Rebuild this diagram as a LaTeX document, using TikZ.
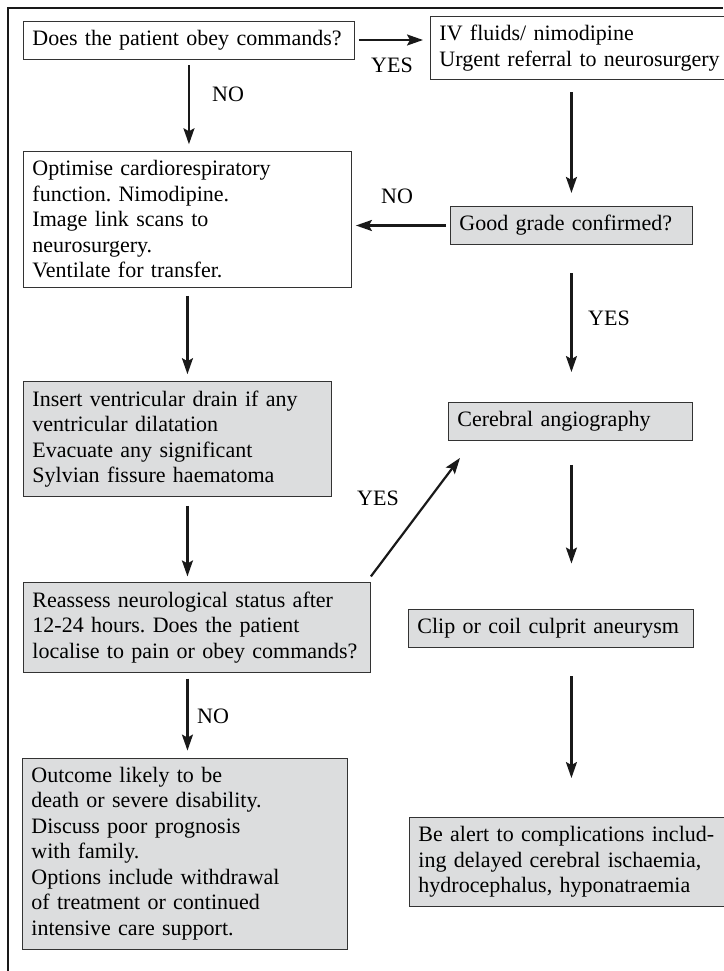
\documentclass[tikz,border=0pt]{standalone}
\usepackage{fontspec}
\setmainfont{Liberation Serif}
\usetikzlibrary{arrows.meta}
\frenchspacing
\definecolor{boxgray}{HTML}{DCDDDE}
\definecolor{edgegray}{HTML}{333333}
\tikzset{
  box/.style={draw=edgegray, line width=0.9pt, anchor=west, align=left,
    inner xsep=9pt, inner ysep=9pt, font=\fontsize{22}{25.5}\selectfont},
  shaded/.style={box, fill=boxgray},
  arr/.style={-{Stealth[length=16pt,width=11pt,inset=3pt]}, line width=2.2pt, black!90},
  lbl/.style={anchor=base west, inner sep=0pt, font=\fontsize{22}{25.5}\selectfont},
}
\begin{document}
\begin{tikzpicture}[x=1pt,y=-1pt]
      \useasboundingbox (0,0) rectangle (723,971);
      \draw[line width=2.4pt, black!90] (8,971) -- (8,8) -- (723,8);
      % left column
      \node[box, text width=313pt] (obey) at (23, 40) {Does the patient obey commands?};
      \node[box, text width=310pt] (optim) at (23, 219.5) {Optimise cardiorespiratory\\function. Nimodipine.\\Image link scans to\\neurosurgery.\\Ventilate for transfer.};
      \node[shaded, text width=290pt] (drain) at (23, 439) {Insert ventricular drain if any\\ventricular dilatation\\Evacuate any significant\\Sylvian fissure haematoma};
      \node[shaded, text width=329pt] (reass) at (23, 627.5) {Reassess neurological status after\\12-24 hours. Does the patient\\localise to pain or obey commands?};
      \node[shaded, text width=307pt] (outc) at (22, 853.5) {Outcome likely to be\\death or severe disability.\\Discuss poor prognosis\\with family.\\Options include withdrawal\\of treatment or continued\\intensive care support.};
      % right column
      \node[box, text width=290pt] (refer) at (430, 48) {IV fluids/ nimodipine\\Urgent referral to neurosurgery};
      \node[shaded, text width=224pt] (grade) at (450, 225.5) {Good grade confirmed?};
      \node[shaded, text width=226pt] (angio) at (448, 421.5) {Cerebral angiography};
      \node[shaded, text width=267pt] (clip) at (408, 628) {Clip or coil culprit aneurysm};
      \node[shaded, text width=302pt] (alert) at (409, 862) {Be alert to complications includ-\\ing delayed cerebral ischaemia,\\hydrocephalus, hyponatraemia};
      % connectors
      \draw[arr, shorten <=4pt, shorten >=7pt] (obey.east) -- (obey.east -| refer.west);
      \node[lbl] (yes1) at (371, 73) {YES};
      \draw[arr, shorten <=6pt, shorten >=7pt] (obey.south) -- (obey.south |- optim.north);
      \node[lbl] (no1) at (212, 102) {NO};
      \draw[arr, shorten <=12pt, shorten >=13pt] (refer.south -| grade.north) -- (grade.north);
      \draw[arr, shorten <=4pt, shorten >=4pt] (grade.west) -- (grade.west -| optim.east);
      \node[lbl] (no2) at (381, 203) {NO};
      \draw[arr, shorten <=28pt, shorten >=30pt] (grade.south) -- (grade.south |- angio.north);
      \node[lbl] (yes2) at (588, 325) {YES};
      \draw[arr, shorten <=8pt, shorten >=7pt] (optim.south) -- (optim.south |- drain.north);
      \draw[arr, shorten <=9pt, shorten >=6pt] (drain.south -| optim.south) -- (optim.south |- reass.north);
      \draw[arr] ([yshift=6pt]reass.north east) -- ([xshift=12pt,yshift=-17pt]angio.south west);
      \node[lbl] (yes3) at (357, 505) {YES};
      \draw[arr, shorten <=24pt, shorten >=45pt] (angio.south -| grade.south) -- (grade.south |- clip.north);
      \draw[arr, shorten <=6pt, shorten >=7pt] (reass.south -| optim.south) -- (optim.south |- outc.north);
      \node[lbl] (no3) at (197, 723) {NO};
      \draw[arr, shorten <=29pt, shorten >=39pt] (clip.south -| grade.south) -- (grade.south |- alert.north);
    \end{tikzpicture}
\end{document}
